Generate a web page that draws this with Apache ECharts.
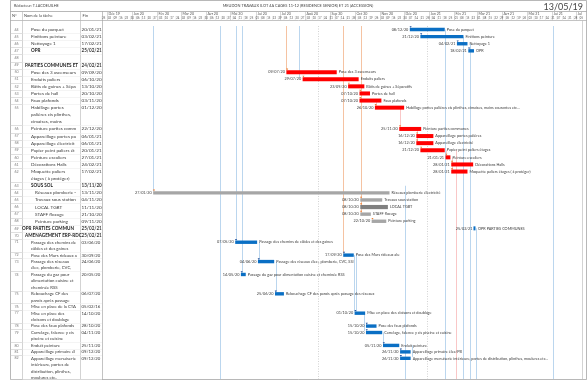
<!DOCTYPE html>
<html><head><meta charset="utf-8">
<script src="https://cdn.jsdelivr.net/npm/echarts@6/dist/echarts.min.js"></script>
<style>html,body{margin:0;padding:0;background:#fff}#c{width:588px;height:382px}</style>
</head><body><div id="c"></div>
<script>
// ---------------- DATA ----------------
const taskIds = [44,45,46,47,48,49,50,51,52,53,54,55,56,57,58,59,60,61,62,63,64,65,66,67,68,69,70,71,72,73,74,75,76,77,78,79,80,81,82];
const taskNames = [
 "Pose du parquet","Finitions peinture","Nettoyage 1","OPR","",
 "PARTIES COMMUNES ET","Pose des 3 ascenseurs","Enduits paliers","Bâtis de gaines + Sépa","Portes de hall","Faux plafonds",
 "Habillage portes\npalières cis plinthes,\ncimaises, mains","Peinture parties comm","Appareillage portes pa","Appareillage électricit",
 "Papier peint paliers ét","Peinture escaliers","Décorations Halls","Moquette paliers\nétages ( à protéger)",
 "SOUS SOL","Réseaux plomberie -","Travaux sous station","LOCAL TGBT","STAFF flocage","Peinture parking",
 "OPR PARTIES COMMUN","AMENAGEMENT ERP-RDC",
 "Passage des chemins de\ncâbles et des gaines","Pose des Murs rideaux a","Passage des réseaux\nélec, plomberie, CVC,",
 "Passage du gaz pour\nalimentation cuisine et\ncheminée RSS","Rebouchage CF des\nparois après passage","Mise en place de la CTA",
 "Mise en place des\ncloisons et doublage","Pose des faux plafonds","Carrelage, faïence y cis\npiscine et cuisine","Enduit peinture",
 "Appareillage primaire él","Appareillage menuiserie\nintérieure, portes de\ndistribution, plinthes,\nmoulures etc.."
];
const finDates = ["20/01/21","03/02/21","17/02/21","25/02/21","","24/02/21","09/09/20","06/10/20","13/10/20","20/10/20","03/11/20",
 "01/12/20","22/12/20","06/01/21","06/01/21","20/01/21","27/01/21","24/02/21","17/02/21","13/11/20","13/11/20","04/11/20","11/11/20",
 "21/10/20","09/11/20","25/02/21","25/02/21","03/06/20","30/09/20","24/06/20","20/05/20","06/07/20","05/02/16","14/10/20","28/10/20",
 "04/11/20","25/11/20","09/12/20","09/12/20"];
const outlineLevel = [2,2,2,2,2,1,2,2,2,2,2,2,2,2,2,2,2,2,2,2,3,3,3,3,3,0,1,2,2,2,2,2,2,2,2,2,2,2,2];
const summaryRow = [0,0,0,1,0,1,0,0,0,0,0,0,0,0,0,0,0,0,0,1,0,0,0,0,0,1,1,0,0,0,0,0,0,0,0,0,0,0,0];
const barStart = ["08/12/20","21/12/20","04/02/21","18/02/21","","","09/07/20","29/07/20","23/09/20","07/10/20","07/10/20",
 "26/10/20","25/11/20","16/12/20","16/12/20","21/12/20","21/01/21","28/01/21","28/01/21","","27/01/20","08/10/20","08/10/20",
 "08/10/20","22/10/20","25/02/21","","07/05/20","17/09/20","04/06/20","14/05/20","25/06/20","","01/10/20","15/10/20",
 "15/10/20","05/11/20","26/11/20","26/11/20"];
const barEnd = ["20/01/21","12/02/21","17/02/21","25/02/21","","","09/09/20","06/10/20","13/10/20","20/10/20","03/11/20",
 "01/12/20","22/12/20","06/01/21","06/01/21","20/01/21","27/01/21","24/02/21","17/02/21","","13/11/20","04/11/20","11/11/20",
 "21/10/20","09/11/20","25/02/21","","03/06/20","30/09/20","24/06/20","20/05/20","06/07/20","","14/10/20","28/10/20",
 "04/11/20","25/11/20","09/12/20","09/12/20"];
const barKind = ["b","b","b","b","","","r","r","r","r","r","r","r","r","r","r","r","r","r","","g","g","G","g","g","m","",
 "b","b","b","b","b","","b","b","b","b","b","b"];
const barLabels = ["Pose du parquet","Finitions peinture","Nettoyage 1","OPR","","","Pose des 3 ascenseurs","Enduits paliers",
 "Bâtis de gaines + Séparatifs","Portes de hall","Faux plafonds","Habillage portes palières cis plinthes, cimaises, mains courantes etc...",
 "Peinture parties communes","Appareillage portes palières","Appareillage électricité","Papier peint paliers étages","Peinture escaliers",
 "Décorations Halls","Moquette paliers étages ( à protéger)","","Réseaux plomberie électricité","Travaux sous station","LOCAL TGBT",
 "STAFF flocage","Peinture parking","OPR PARTIES COMMUNES","","Passage des chemins de câbles et des gaines","Pose des Murs rideaux alu",
 "Passage des réseaux élec., plomberie, CVC, SSI","Passage du gaz pour alimentation cuisine et cheminée RSS",
 "Rebouchage CF des parois après passage des réseaux","","Mise en place des cloisons et doublage","Pose des faux plafonds",
 "Carrelage, faïence y cis piscine et cuisine","Enduit peinture","Appareillage primaire élec/PB",
 "Appareillage menuiserie intérieure, portes de distribution, plinthes, moulures etc..."];
// links: [date, fromTaskId (0 = top), toTaskId (99 = bottom), colour key, dashed]
const links = [
 ["27/01/20",0,64,"b",0],["18/04/20",0,99,"b",0],["08/05/20",0,71,"b",0],["15/05/20",0,74,"b",0],
 ["09/07/20",0,50,"o",0],["25/07/20",0,51,"b",0],["17/09/20",0,72,"o",0],["09/10/20",0,67,"o",0],
 ["17/08/20",0,99,"d",1],["29/12/20",0,99,"d",1],["20/01/21",44,99,"b",0],["12/02/21",45,99,"b",0],
 ["20/02/21",46,99,"b",0],["27/02/21",69,99,"b",0],["02/06/21",0,99,"b",0],["02/12/20",63,99,"b",0],
 ["03/02/21",59,99,"p",0],["05/06/20",71,73,"b",0],["26/06/20",73,75,"b",0],["30/09/20",72,77,"b",0],
 ["03/10/20",72,77,"b",0],["13/10/20",77,79,"b",0],["05/11/20",79,80,"b",0],["11/12/20",80,82,"b",0],
 ["27/10/20",54,55,"p",0],["26/11/20",55,56,"p",0],["17/12/20",56,58,"p",0],["22/01/21",59,60,"p",0],["29/01/21",60,62,"p",0]
];
const monthLabels = ["Déc 19","Jan 20","Fév 20","Mar 20","Avr 20","Mai 20","Jui 20","Jul 20","Aoû 20","Sep 20","Oct 20","Nov 20",
 "Déc 20","Jan 21","Fév 21","Mar 21","Avr 21","Mai 21","Jui 21","Jul"];
const monthStarts = ["01/12/19","01/01/20","01/02/20","01/03/20","01/04/20","01/05/20","01/06/20","01/07/20","01/08/20","01/09/20",
 "01/10/20","01/11/20","01/12/20","01/01/21","01/02/21","01/03/21","01/04/21","01/05/21","01/06/21","01/07/21"];
const axisStart = "25/11/19", axisEnd = "08/07/21";

// ---------------- LAYOUT ----------------
function d(s){const p=s.split('/').map(Number);return new Date(2000+p[2],p[1]-1,p[0]).getTime();}
const FONT = 'Lato, "Liberation Sans", sans-serif';
const TXT = '#3a3a3a';
const lineH = taskIds.map(id => id >= 71 ? 6.45 : 7.1);
const nLines = taskNames.map(n => n.split('\n').length);
const rowTop = []; let acc = 0;
taskIds.forEach((id,i)=>{rowTop.push(acc); acc += nLines[i]*lineH[i];});
const TOTAL = acc;
const GRID_TOP = 26, GRID_LEFT = 102, GRID_W = 480;
const idx = {}; taskIds.forEach((id,i)=>idx[id]=i);
const colors = {b:'#0A6FC4', r:'#FF0000', g:'#A6A6A6', G:'#808080', m:'#0A6FC4'};
const linkCol = {b:'#A9CBEA', o:'#F2B48A', p:'#F7B9B9', d:'#C8C8C8'};

const chart = echarts.init(document.getElementById('c'), null, {renderer:'canvas'});

const weeks = [];
for (let t = d(axisStart); t < d(axisEnd); t += 7*86400000) {
  const dt = new Date(t); weeks.push([t, String(dt.getDate()).padStart(2,'0')]);
}

const option = {
  animation:false,
  grid:{left:GRID_LEFT, top:GRID_TOP, width:GRID_W, height:TOTAL, containLabel:false},
  xAxis:{type:'time', min:d(axisStart), max:d(axisEnd), show:false},
  yAxis:{type:'value', min:0, max:TOTAL, inverse:true, show:false},
  series:[
    {type:'custom', z:1, data: links.map(l=>[d(l[0]), l[1], l[2], l[3], l[4]]),
     renderItem:(p,api)=>{
       const t=api.value(0), f=api.value(1), to=api.value(2);
       const l = links[p.dataIndex];
       const y0 = f===0 ? 0 : rowTop[idx[f]] + lineH[idx[f]]/2;
       const y1 = to===99 ? Math.min(TOTAL, 353) : rowTop[idx[to]] + lineH[idx[to]]/2 - 1.5;
       const a = api.coord([t,y0]), b = api.coord([t,y1]);
       const x = Math.round(a[0])+0.5;
       return {type:'line', shape:{x1:x,y1:a[1],x2:x,y2:b[1]},
         style:{stroke:linkCol[l[3]], lineWidth:0.8, lineDash: l[4]?[1,1.5]:null}};
     }},
    {type:'custom', z:3, data: taskIds.map((id,i)=>[barStart[i]?d(barStart[i]):0, barEnd[i]?d(barEnd[i]):0, i]).filter(v=>v[0]),
     renderItem:(p,api)=>{
       const i = api.value(2), k = barKind[i];
       const yc = rowTop[i] + lineH[i]/2;
       const a = api.coord([api.value(0), yc]), b = api.coord([api.value(1), yc]);
       const ch = [];
       const col = colors[k];
       if (k==='m') {
         ch.push({type:'rect', shape:{x:a[0]-0.5,y:a[1]-2,width:2,height:4}, style:{fill:col}});
       } else {
         const hh = k==='G'?4.2:(k==='r'?4:3.4);
         ch.push({type:'rect', shape:{x:a[0],y:a[1]-hh/2,width:Math.max(1.5,b[0]-a[0]),height:hh}, style:{fill:col}});
         ch.push({type:'polygon', shape:{points:[[a[0]-0.3,a[1]-hh/2-1.6],[a[0]+1.9,a[1]-hh/2-1.6],[a[0]+0.8,a[1]-hh/2]]},
           style:{fill: k==='r'||k==='g'||k==='G' ? '#ED7D31':'#1F4E99'}});
       }
       ch.push({type:'text', style:{x:a[0]-1.5, y:a[1], text:barStart[i], align:'right', verticalAlign:'middle',
         font:'3.8px '+FONT, fill:TXT}});
       ch.push({type:'text', style:{x:(k==='m'?a[0]+2:b[0])+2, y:a[1], text:barLabels[i], align:'left', verticalAlign:'middle',
         font:'3.8px '+FONT, fill:TXT}});
       return {type:'group', children:ch};
     }},
    {type:'custom', z:2, data: taskIds.map((id,i)=>[d(axisStart), i]),
     renderItem:(p,api)=>{
       const i = api.value(1);
       const top = api.coord([api.value(0), rowTop[i]])[1];
       const bot = api.coord([api.value(0), rowTop[i] + nLines[i]*lineH[i]])[1];
       const ch = [];
       const bold = summaryRow[i] ? 'bold ' : '';
       const xName = [22, 25, 31, 35][outlineLevel[i]];
       const fs = taskIds[i] >= 71 ? 4.3 : 4.6;
       const yb = Math.min(Math.round(bot), 379)+0.5;
       ch.push({type:'line', shape:{x1:10.5,y1:yb,x2:22.5,y2:yb}, style:{stroke:'#C9C9C9',lineWidth:0.6}});
       ch.push({type:'line', shape:{x1:22.5,y1:yb,x2:102,y2:yb}, style:{stroke:'#EDEDED',lineWidth:0.6}});
       ch.push({type:'text', style:{x:16.5, y:top+lineH[i]/2, text:String(taskIds[i]), align:'center', verticalAlign:'middle',
         font:'3.6px '+FONT, fill:'#7a7a7a'}});
       taskNames[i].split('\n').forEach((ln,j)=>{
         ch.push({type:'text', style:{x:xName, y:top+lineH[i]*(j+0.5), text:ln, align:'left', verticalAlign:'middle',
           font:bold+fs+'px '+FONT, fill: summaryRow[i]?'#222':TXT}});
       });
       ch.push({type:'text', style:{x:81.5, y:top+lineH[i]/2, text:finDates[i], align:'left', verticalAlign:'middle',
         font:bold+fs+'px '+FONT, fill:TXT}});
       return {type:'group', children:ch};
     }},
    {type:'custom', z:2, data: monthStarts.map((m,i)=>[d(m), i]),
     renderItem:(p,api)=>{
       const a = api.coord([api.value(0), -11]);
       const x = Math.round(a[0])+0.5;
       return {type:'group', children:[
         {type:'line', shape:{x1:x,y1:12,x2:x,y2:20.5}, style:{stroke:'#BDBDBD',lineWidth:0.6}},
         {type:'text', style:{x:x+1, y:14.3, text:monthLabels[api.value(1)], align:'left', verticalAlign:'middle',
           font:'3.6px '+FONT, fill:'#555'}}
       ]};
     }},
    {type:'custom', z:2, data: weeks.map(w=>[w[0]]),
     renderItem:(p,api)=>{
       const a = api.coord([api.value(0), 0]);
       const x = a[0];
       return {type:'group', children:[
         {type:'line', shape:{x1:x,y1:16,x2:x,y2:20.5}, style:{stroke:'#D0D0D0',lineWidth:0.4}},
         {type:'text', style:{x:x+0.3, y:18.2, text:weeks[p.dataIndex][1], align:'left', verticalAlign:'middle',
           font:'2.7px '+FONT, fill:'#555'}}
       ]};
     }}
  ],
  graphic:[
    {type:'rect', shape:{x:10.5,y:0.5,width:576,height:379}, style:{fill:null, stroke:'#9A9A9A', lineWidth:0.7}, silent:true},
    {type:'line', shape:{x1:10.5,y1:11.5,x2:586.5,y2:11.5}, style:{stroke:'#9A9A9A',lineWidth:0.7}},
    {type:'line', shape:{x1:10.5,y1:20.5,x2:586.5,y2:20.5}, style:{stroke:'#9A9A9A',lineWidth:0.6}},
    {type:'line', shape:{x1:22.5,y1:11.5,x2:22.5,y2:379.5}, style:{stroke:'#B5B5B5',lineWidth:0.6}},
    {type:'line', shape:{x1:80.5,y1:11.5,x2:80.5,y2:379.5}, style:{stroke:'#B5B5B5',lineWidth:0.6}},
    {type:'line', shape:{x1:102.5,y1:11.5,x2:102.5,y2:379.5}, style:{stroke:'#9A9A9A',lineWidth:0.6}},
    {type:'line', shape:{x1:582.5,y1:20.5,x2:582.5,y2:379.5}, style:{stroke:'#B5B5B5',lineWidth:0.6}},
    {type:'text', style:{x:14, y:6, text:'Rédacteur: T.LACOEUILHE', font:'3.8px '+FONT, fill:'#444', verticalAlign:'middle'}},
    {type:'text', style:{x:298, y:6, text:'MEUDON TRAVAUX ILOT 4A CAGES 11-12 (RESIDENCE SENIOR) ET 21 (ACCESSION)', align:'center',
      font:'3.9px '+FONT, fill:'#444', verticalAlign:'middle'}},
    {type:'text', style:{x:583, y:7, text:'13/05/19', align:'right', font:'9px '+FONT, fill:'#444', verticalAlign:'middle'}},
    {type:'text', style:{x:12, y:15.5, text:'N°', font:'4px '+FONT, fill:'#444', verticalAlign:'middle'}},
    {type:'text', style:{x:24, y:15.5, text:'Nom de la tâche', font:'4px '+FONT, fill:'#444', verticalAlign:'middle'}},
    {type:'text', style:{x:82.5, y:15.5, text:'Fin', font:'4px '+FONT, fill:'#444', verticalAlign:'middle'}}
  ]
};
chart.setOption(option);
</script></body></html>
